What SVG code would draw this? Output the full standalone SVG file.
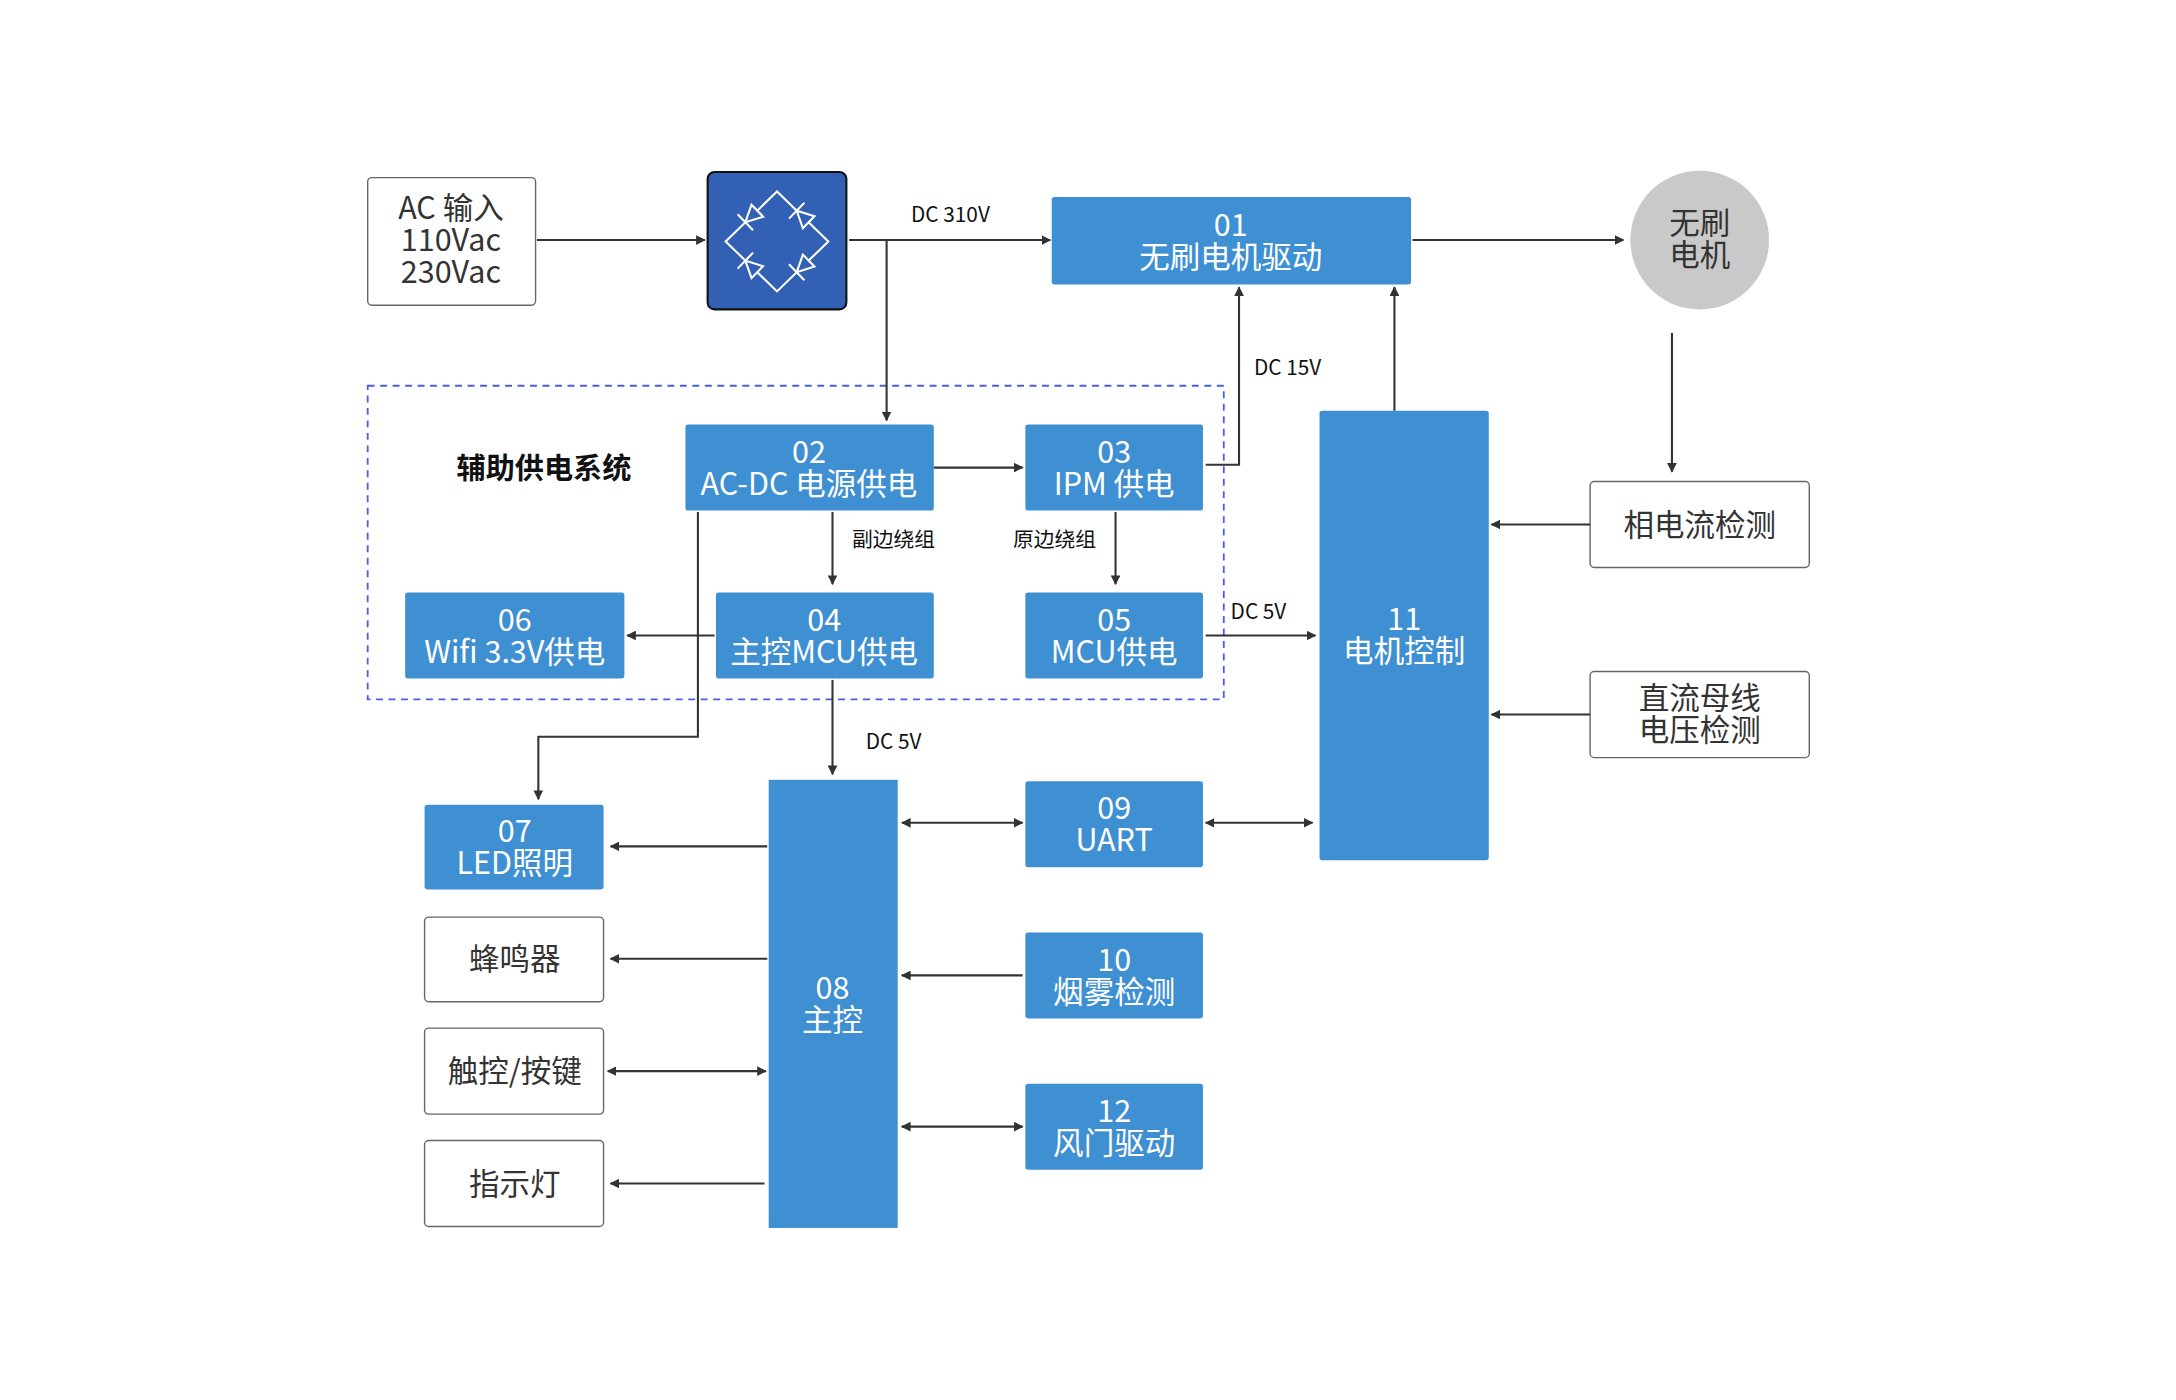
<svg xmlns="http://www.w3.org/2000/svg" width="2176" height="1400" viewBox="0 0 2176 1400">
<defs>
<marker id="a" viewBox="0 0 10 10" refX="9" refY="5" markerWidth="7" markerHeight="7" orient="auto-start-reverse" markerUnits="userSpaceOnUse"><path d="M0,0 L10,5 L0,10 z" fill="#333"/></marker>
<g id="dio"><path d="M-6,-6 L6,0 L-6,6 Z" fill="#3160b5"/><path d="M6,-8 L6,8"/></g>
<style>
text{font-family:"Noto Sans CJK SC","Noto Sans",sans-serif;text-anchor:middle}
.b{fill:#3f8fd3}
.w{fill:#fff;stroke:#666;stroke-width:1}
.t{fill:#fff;font-size:22px}
.d{fill:#333;font-size:22px}
.l{fill:#111;font-size:15px}
.c path,.c line,.c polyline{stroke:#333;stroke-width:1.5;fill:none}
.ar{marker-end:url(#a)}
.ab{marker-start:url(#a);marker-end:url(#a)}
</style>
</defs>
<rect width="2176" height="1400" fill="#fff"/>
<g transform="scale(1.3875)">
<rect x="265" y="278" width="617" height="226" fill="none" stroke="#4a5fe0" stroke-width="1.3" stroke-dasharray="5,4"/>
<text x="392" y="345" style="font-size:21px;font-weight:bold" fill="#111">辅助供电系统</text>
<g id="ac"><rect x="265" y="128" width="121" height="92" rx="3" class="w"/><text class="d" x="325" y="158">AC 输入</text><text class="d" x="325" y="181">110Vac</text><text class="d" x="325" y="204">230Vac</text></g>
<g id="bridge"><rect x="510" y="124" width="100" height="99" rx="5" fill="#3160b5" stroke="#111" stroke-width="1.5"/>
<g stroke="#fff" stroke-width="1.5" fill="none"><path d="M560,138 L597,174 L560,210 L523,174 Z"/>
<use href="#dio" transform="translate(541.5,156) rotate(136)"/>
<use href="#dio" transform="translate(578.5,156) rotate(224)"/>
<use href="#dio" transform="translate(541.5,192) rotate(224)"/>
<use href="#dio" transform="translate(578.5,192) rotate(136)"/>
</g></g>
<g id="n01"><rect x="758" y="142" width="259" height="63" rx="2" class="b"/><text class="t" x="887" y="170">01</text><text class="t" x="887" y="193">无刷电机驱动</text></g>
<g id="motor"><circle cx="1225" cy="173" r="50" fill="#c9c9c9"/><text class="d" x="1225" y="169">无刷</text><text class="d" x="1225" y="192">电机</text></g>
<g id="n11"><rect x="951" y="296" width="122" height="324" rx="2" class="b"/><text class="t" x="1012" y="454">11</text><text class="t" x="1012" y="477">电机控制</text></g>
<g id="phase"><rect x="1146" y="347" width="158" height="62" rx="3" class="w"/><text class="d" x="1225" y="386">相电流检测</text></g>
<g id="bus"><rect x="1146" y="484" width="158" height="62" rx="3" class="w"/><text class="d" x="1225" y="511">直流母线</text><text class="d" x="1225" y="534">电压检测</text></g>
<g id="n02"><rect x="494" y="306" width="179" height="62" rx="2" class="b"/><text class="t" x="583" y="334">02</text><text class="t" x="583" y="357">AC-DC 电源供电</text></g>
<g id="n03"><rect x="739" y="306" width="128" height="62" rx="2" class="b"/><text class="t" x="803" y="334">03</text><text class="t" x="803" y="357">IPM 供电</text></g>
<g id="n04"><rect x="516" y="427" width="157" height="62" rx="2" class="b"/><text class="t" x="594" y="455">04</text><text class="t" x="594" y="478">主控MCU供电</text></g>
<g id="n05"><rect x="739" y="427" width="128" height="62" rx="2" class="b"/><text class="t" x="803" y="455">05</text><text class="t" x="803" y="478">MCU供电</text></g>
<g id="n06"><rect x="292" y="427" width="158" height="62" rx="2" class="b"/><text class="t" x="371" y="455">06</text><text class="t" x="371" y="478">Wifi 3.3V供电</text></g>
<g id="n07"><rect x="306" y="580" width="129" height="61" rx="2" class="b"/><text class="t" x="371" y="607">07</text><text class="t" x="371" y="630">LED照明</text></g>
<g id="buzz"><rect x="306" y="661" width="129" height="61" rx="3" class="w"/><text class="d" x="371" y="699">蜂鸣器</text></g>
<g id="touch"><rect x="306" y="741" width="129" height="62" rx="3" class="w"/><text class="d" x="371" y="780">触控/按键</text></g>
<g id="led"><rect x="306" y="822" width="129" height="62" rx="3" class="w"/><text class="d" x="371" y="861">指示灯</text></g>
<g id="n08"><rect x="554" y="562" width="93" height="323" class="b"/><text class="t" x="600" y="720">08</text><text class="t" x="600" y="743">主控</text></g>
<g id="n09"><rect x="739" y="563" width="128" height="62" rx="2" class="b"/><text class="t" x="803" y="590">09</text><text class="t" x="803" y="613">UART</text></g>
<g id="n10"><rect x="739" y="672" width="128" height="62" rx="2" class="b"/><text class="t" x="803" y="700">10</text><text class="t" x="803" y="723">烟雾检测</text></g>
<g id="n12"><rect x="739" y="781" width="128" height="62" rx="2" class="b"/><text class="t" x="803" y="809">12</text><text class="t" x="803" y="832">风门驱动</text></g>
<g id="connectors" class="c">
<line x1="387" y1="173" x2="508" y2="173" class="ar"/>
<line x1="612" y1="173" x2="757" y2="173" class="ar"/>
<line x1="639" y1="173" x2="639" y2="303" class="ar"/>
<line x1="1018" y1="173" x2="1170" y2="173" class="ar"/>
<line x1="1205" y1="240" x2="1205" y2="340" class="ar"/>
<line x1="1146" y1="378" x2="1075" y2="378" class="ar"/>
<line x1="1146" y1="515" x2="1075" y2="515" class="ar"/>
<line x1="1005" y1="296" x2="1005" y2="207" class="ar"/>
<line x1="673" y1="337" x2="737" y2="337" class="ar"/>
<polyline points="869,335 893,335 893,207" class="ar"/>
<line x1="600" y1="369" x2="600" y2="421" class="ar"/>
<line x1="804" y1="369" x2="804" y2="421" class="ar"/>
<line x1="869" y1="458" x2="948" y2="458" class="ar"/>
<line x1="515" y1="458" x2="452" y2="458" class="ar"/>
<polyline points="503,369 503,531 388,531 388,576" class="ar"/>
<line x1="600" y1="490" x2="600" y2="558" class="ar"/>
<line x1="553" y1="610" x2="440" y2="610" class="ar"/>
<line x1="553" y1="691" x2="440" y2="691" class="ar"/>
<line x1="438" y1="772" x2="552" y2="772" class="ab"/>
<line x1="551" y1="853" x2="440" y2="853" class="ar"/>
<line x1="650" y1="593" x2="737" y2="593" class="ab"/>
<line x1="869" y1="593" x2="946" y2="593" class="ab"/>
<line x1="737" y1="703" x2="650" y2="703" class="ar"/>
<line x1="650" y1="812" x2="737" y2="812" class="ab"/>
</g>
<g class="lbl">
<text class="l" x="685" y="160">DC 310V</text>
<text class="l" x="928" y="270">DC 15V</text>
<text class="l" x="644" y="394">副边绕组</text>
<text class="l" x="760" y="394">原边绕组</text>
<text class="l" x="907" y="446">DC 5V</text>
<text class="l" x="644" y="540">DC 5V</text>
</g>
</g>
</svg>
